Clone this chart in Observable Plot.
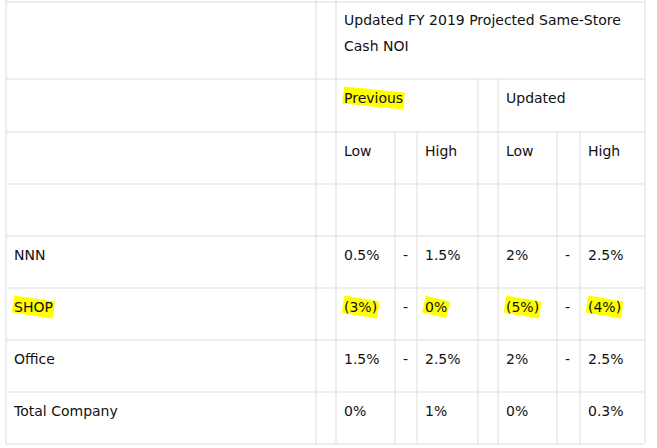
<!DOCTYPE html>
<html>
<head>
<meta charset="utf-8">
<script src="https://cdn.jsdelivr.net/npm/d3@7"></script>
<script src="https://cdn.jsdelivr.net/npm/@observablehq/plot@0.6"></script>
<style>
  html, body { margin: 0; padding: 0; background: #ffffff; }
  #chart svg { display: block; }
</style>
</head>
<body>
<div id="chart"></div>
<script>
// ---------- data ----------
const title = "Updated FY 2019 Projected Same-Store\nCash NOI";
const groups = ["Previous", "Updated"];
const bounds = ["Low", "High"];
const categories = ["NNN", "SHOP", "Office", "Total Company"];
const previousLow = ["0.5%", "(3%)", "1.5%", "0%"];
const previousHigh = ["1.5%", "0%", "2.5%", "1%"];
const updatedLow = ["2%", "(5%)", "2%", "0%"];
const updatedHigh = ["2.5%", "(4%)", "2.5%", "0.3%"];
const separators = ["-", "-", "-", ""];
const highlightedGroups = ["Previous"];
const highlightedCategories = ["SHOP"];

// ---------- layout (table geometry) ----------
const W = 657, H = 448;
const FONT = "DejaVu Sans";
const FS = 14;
const colEdges = [5.5, 315.5, 335.5, 394.5, 416.5, 477.5, 497.5, 556.5, 579.5, 644.5];
const rowEdges = [1.5, 78.5, 131.5, 183.5, 235.5, 287.5, 339.5, 391.5, 443.5];
const padX = 8, baseOff = 24;

// cells: [row, colStart, colEnd(exclusive), text, highlighted]
const cells = [];
cells.push([0, 0, 1, "", false], [0, 1, 2, "", false], [0, 2, 9, title, false]);
cells.push([1, 0, 1, "", false], [1, 1, 2, "", false],
           [1, 2, 5, groups[0], highlightedGroups.includes(groups[0])],
           [1, 5, 6, "", false],
           [1, 6, 9, groups[1], highlightedGroups.includes(groups[1])]);
const boundRow = [[0,1,""],[1,2,""],[2,3,bounds[0]],[3,4,""],[4,5,bounds[1]],[5,6,""],[6,7,bounds[0]],[7,8,""],[8,9,bounds[1]]];
boundRow.forEach(([a,b,t]) => cells.push([2, a, b, t, false]));
for (let c = 0; c < 9; c++) cells.push([3, c, c + 1, "", false]);
categories.forEach((cat, i) => {
  const hl = highlightedCategories.includes(cat);
  const vals = [cat, "", previousLow[i], separators[i], previousHigh[i], "", updatedLow[i], separators[i], updatedHigh[i]];
  vals.forEach((t, c) => cells.push([4 + i, c, c + 1, t, hl && t !== "" && t !== "-"]));
});

// vertical line segments: left edge of each cell + right border
const vSegs = [];
cells.forEach(([r, a, b]) => {
  vSegs.push({x: colEdges[a], y1: rowEdges[r] - (r === 0 ? 2 : 0), y2: rowEdges[r + 1]});
  if (b === 9) vSegs.push({x: colEdges[9], y1: rowEdges[r] - (r === 0 ? 2 : 0), y2: rowEdges[r + 1]});
});
const hLines = rowEdges.map(y => ({y, x1: colEdges[0], x2: colEdges[9]}));

// text
const texts = cells.filter(d => d[3] !== "").map(([r, a, b, t, hl]) => {
  const nLines = t.split("\n").length;
  return {
    text: t,
    x: colEdges[a] + padX,
    y: rowEdges[r] + baseOff + (nLines - 1) * 26 - (r === 0 ? 1.5 : 0),
    hl
  };
});

// highlight marker strokes (measured from text width)
const ctx = document.createElement("canvas").getContext("2d");
ctx.font = `${FS}px "${FONT}"`;
const marks = [];
texts.filter(d => d.hl).forEach((d, i) => {
  const w = ctx.measureText(d.text).width;
  const x0 = d.x - 1, x1 = d.x + w + 1;
  const yc = d.y - 5;
  marks.push({id: i, x: x0, y: yc - 3});
  marks.push({id: i, x: x1, y: yc + 3});
});

const chart = Plot.plot({
  width: W,
  height: H,
  margin: 0,
  x: {type: "linear", domain: [0, W], range: [0, W], axis: null},
  y: {type: "linear", domain: [0, H], range: [0, H], axis: null},
  style: {background: "#ffffff", fontFamily: FONT, fontSize: FS + "px"},
  marks: [
    Plot.line(marks, {x: "x", y: "y", z: "id", stroke: "#ffff00", strokeWidth: 17, strokeLinecap: "butt", strokeOpacity: 1}),
    Plot.ruleY(hLines, {y: "y", x1: "x1", x2: "x2", stroke: "#dddddd", strokeWidth: 1, strokeOpacity: 1}),
    Plot.ruleX(vSegs, {x: "x", y1: "y1", y2: "y2", stroke: "#dddddd", strokeWidth: 1, strokeOpacity: 1}),
    Plot.text(texts, {x: "x", y: "y", text: "text", textAnchor: "start", lineAnchor: "bottom", lineHeight: 26 / FS, fill: "#111111", fontSize: FS})
  ]
});
document.getElementById("chart").appendChild(chart);
</script>
</body>
</html>
